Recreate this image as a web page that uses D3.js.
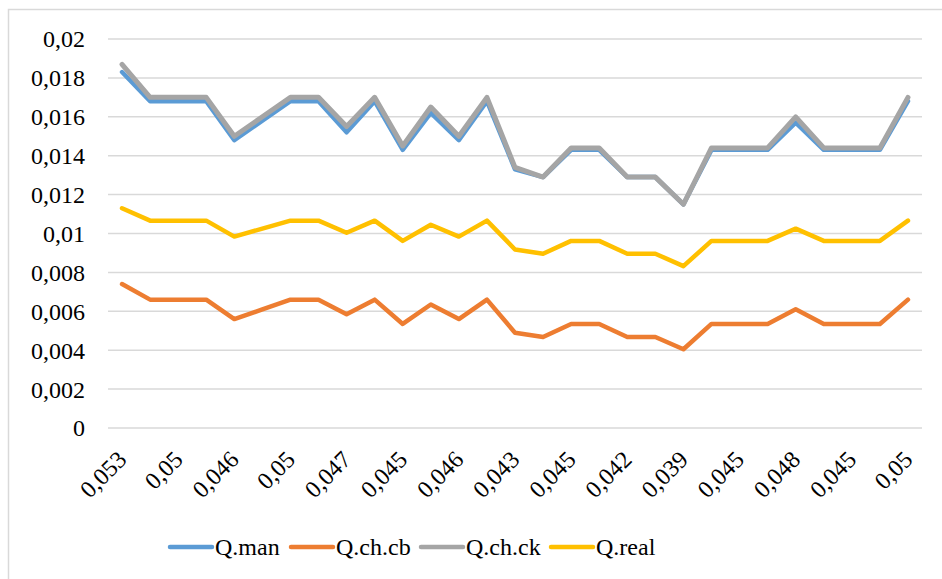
<!DOCTYPE html>
<html>
<head>
<meta charset="utf-8">
<script src="https://cdn.jsdelivr.net/npm/d3@7/dist/d3.min.js"></script>
</head>
<body style="margin:0">
<svg id="s" width="942" height="579"></svg>
<script>
// Category labels (x axis), one per observation
const categories = [
  "0,053","0,05","0,05","0,05","0,046","0,048","0,05","0,05","0,047","0,05",
  "0,045","0,049","0,046","0,05","0,043","0,042","0,045","0,045","0,042","0,042",
  "0,039","0,045","0,045","0,045","0,048","0,045","0,045","0,045","0,05"
];

// Series values
const qMan = [
  0.0183,0.0168,0.0168,0.0168,0.0148,0.0158,0.0168,0.0168,0.0152,0.0168,
  0.0143,0.0162,0.0148,0.0168,0.0133,0.0129,0.0143,0.0143,0.0129,0.0129,
  0.0115,0.0143,0.0143,0.0143,0.0157,0.0143,0.0143,0.0143,0.0168
];
const qChCb = [
  0.0074,0.0066,0.0066,0.0066,0.0056,0.0061,0.0066,0.0066,0.00585,0.0066,
  0.00535,0.00635,0.0056,0.0066,0.0049,0.00468,0.00535,0.00535,0.00468,0.00468,
  0.00405,0.00535,0.00535,0.00535,0.0061,0.00535,0.00535,0.00535,0.0066
];
const qChCk = [
  0.0187,0.0170,0.0170,0.0170,0.0150,0.0160,0.0170,0.0170,0.0155,0.0170,
  0.0145,0.0165,0.0150,0.0170,0.0134,0.0129,0.0144,0.0144,0.0129,0.0129,
  0.0115,0.0144,0.0144,0.0144,0.0160,0.0144,0.0144,0.0144,0.0170
];
const qReal = [
  0.0113,0.01066,0.01066,0.01066,0.00984,0.01025,0.01066,0.01066,0.01004,0.01066,
  0.00962,0.01045,0.00984,0.01066,0.00918,0.00896,0.00962,0.00962,0.00896,0.00896,
  0.00832,0.00962,0.00962,0.00962,0.01025,0.00962,0.00962,0.00962,0.01066
];

// Y axis ticks
const yTicks = [0,0.002,0.004,0.006,0.008,0.01,0.012,0.014,0.016,0.018,0.02];
const yTickLabels = ["0","0,002","0,004","0,006","0,008","0,01","0,012","0,014","0,016","0,018","0,02"];

const seriesNames = ["Q.man","Q.ch.cb","Q.ch.ck","Q.real"];
const seriesColors = ["#5B9BD5","#ED7D31","#A5A5A5","#FFC000"];
const seriesData = [qMan, qChCb, qChCk, qReal];

const FONT = "\"Liberation Serif\", serif";
const svg = d3.select("#s");

// Apply the serif face and size to a text selection
const serif = sel => sel
  .style("font-family", FONT, "important")
  .style("font-size", "24px", "important")
  .style("fill", "#000");

// Outer chart frame
svg.append("rect")
  .attr("x", 8.5).attr("y", 9.5)
  .attr("width", 960).attr("height", 600)
  .attr("fill", "none").attr("stroke", "#d9d9d9").attr("stroke-width", 1.5);

const plot = { left: 108, right: 922, top: 39, bottom: 428 };

const x = d3.scaleBand()
  .domain(d3.range(categories.length))
  .range([plot.left, plot.right]);

const y = d3.scaleLinear()
  .domain([0, 0.02])
  .range([plot.bottom, plot.top]);

// Horizontal gridlines
svg.append("g")
  .selectAll("line")
  .data(yTicks)
  .join("line")
  .attr("x1", plot.left).attr("x2", plot.right)
  .attr("y1", d => y(d)).attr("y2", d => y(d))
  .attr("stroke", "#d9d9d9").attr("stroke-width", 1.5);

// Y axis labels
svg.append("g")
  .selectAll("text")
  .data(yTicks)
  .join("text")
  .attr("x", 85)
  .attr("y", d => y(d))
  .attr("dy", "0.35em")
  .attr("text-anchor", "end")
  .call(serif)
  .text((d, i) => yTickLabels[i]);

// X axis labels, every second category, rotated
const cx = i => x(i) + x.bandwidth() / 2;
svg.append("g")
  .selectAll("text")
  .data(d3.range(0, categories.length, 2))
  .join("text")
  .attr("transform", i => `translate(${cx(i) + 6},${plot.bottom + 33}) rotate(-45)`)
  .attr("text-anchor", "end")
  .call(serif)
  .text(i => categories[i]);

// Series lines
const line = d3.line()
  .x((d, i) => cx(i))
  .y(d => y(d));

svg.append("g")
  .selectAll("path")
  .data(seriesData)
  .join("path")
  .attr("d", d => line(d))
  .attr("fill", "none")
  .attr("stroke", (d, i) => seriesColors[i])
  .attr("stroke-width", (d, i) => i === 2 ? 5 : 4.5)
  .attr("stroke-linejoin", "round")
  .attr("stroke-linecap", "round");

// Legend
const legendX = [170, 291, 421, 551];
const legend = svg.append("g")
  .selectAll("g")
  .data(seriesNames)
  .join("g")
  .attr("transform", (d, i) => `translate(${legendX[i]},547)`);
legend.append("line")
  .attr("x1", 0).attr("x2", 42)
  .attr("stroke", (d, i) => seriesColors[i])
  .attr("stroke-width", 4.5)
  .attr("stroke-linecap", "round");
legend.append("text")
  .attr("x", 45)
  .attr("dy", "0.35em")
  .call(serif)
  .text(d => d);
</script>
</body>
</html>
